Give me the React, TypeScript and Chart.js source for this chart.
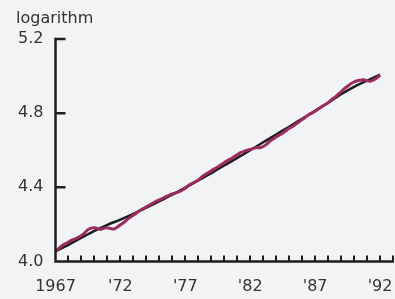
import React, { useEffect, useRef } from "react";
import { Chart, registerables } from "chart.js";

Chart.register(...registerables);

// Smooth trend (black line), yearly
const trendYears = [1967, 1968, 1969, 1970, 1971, 1972, 1973, 1974, 1975, 1976, 1977, 1978, 1979, 1980, 1981, 1982, 1983, 1984, 1985, 1986, 1987, 1988, 1989, 1990, 1991, 1992];
const trendValues = [4.055, 4.09, 4.128, 4.165, 4.198, 4.226, 4.257, 4.29, 4.325, 4.36, 4.398, 4.437, 4.477, 4.518, 4.558, 4.6, 4.643, 4.685, 4.727, 4.77, 4.813, 4.856, 4.902, 4.942, 4.975, 5.008];

// Actual series (magenta line), quarterly from 1967 Q1 to 1992 Q1
const actualStartYear = 1967;
const actualValues = [
  4.055, 4.07, 4.085, 4.095,
  4.105, 4.115, 4.122, 4.13,
  4.14, 4.155, 4.172, 4.18,
  4.182, 4.178, 4.173, 4.18,
  4.182, 4.178, 4.175, 4.185,
  4.198, 4.21, 4.225, 4.238,
  4.25, 4.262, 4.275, 4.285,
  4.295, 4.305, 4.315, 4.325,
  4.332, 4.34, 4.35, 4.357,
  4.365, 4.37, 4.375, 4.385,
  4.395, 4.41, 4.42, 4.43,
  4.44, 4.455, 4.468, 4.478,
  4.49, 4.5, 4.51, 4.522,
  4.533, 4.545, 4.553, 4.565,
  4.575, 4.587, 4.593, 4.6,
  4.605, 4.61, 4.615, 4.613,
  4.62, 4.632, 4.648, 4.66,
  4.672, 4.682, 4.692, 4.705,
  4.718, 4.728, 4.74, 4.752,
  4.765, 4.778, 4.792, 4.8,
  4.81, 4.822, 4.835, 4.845,
  4.856, 4.872, 4.885, 4.9,
  4.915, 4.932, 4.945, 4.958,
  4.968, 4.975, 4.978, 4.98,
  4.975, 4.972, 4.98, 4.99,
  5.003,
];
const actualYears = actualValues.map((_, i) => actualStartYear + i * 0.25);

const yTickValues = [4.0, 4.4, 4.8, 5.2];
const xTickValues = [1967, 1972, 1977, 1982, 1987, 1992];
const xTickLabels = ["1967", "'72", "'77", "'82", "'87", "'92"];
const xMinorTickYears = [1968, 1969, 1970, 1971, 1972, 1973, 1974, 1975, 1976, 1977, 1978, 1979, 1980, 1981, 1982, 1983, 1984, 1985, 1986, 1987, 1988, 1989, 1990, 1991, 1992, 1993];
const yAxisTitle = "logarithm";

const BG = "#f2f3f5";
const INK = "#1e1e1e";
const TEXT = "#333333";
const FONT = "DejaVu Sans";

const axesPlugin = {
  id: "customAxes",
  beforeDraw(chart: any) {
    const { ctx, width, height } = chart;
    ctx.save();
    ctx.fillStyle = BG;
    ctx.fillRect(0, 0, width, height);
    ctx.restore();
  },
  afterDatasetsDraw(chart: any) {
    const { ctx, chartArea, scales } = chart;
    const xs = scales.x;
    const ys = scales.y;
    const left = chartArea.left;
    const bottom = chartArea.bottom;
    ctx.save();
    ctx.strokeStyle = INK;
    ctx.lineWidth = 2.5;
    ctx.lineCap = "butt";
    ctx.beginPath();
    ctx.moveTo(left, ys.getPixelForValue(5.2) - 1.25);
    ctx.lineTo(left, bottom);
    ctx.lineTo(xs.getPixelForValue(1993) + 1, bottom);
    ctx.stroke();
    ctx.lineWidth = 2.5;
    ctx.beginPath();
    yTickValues.forEach((v) => {
      if (v === 4.0) return;
      const py = ys.getPixelForValue(v);
      ctx.moveTo(left, py);
      ctx.lineTo(left + 10, py);
    });
    ctx.stroke();
    ctx.lineWidth = 2;
    ctx.beginPath();
    xMinorTickYears.forEach((yr) => {
      const px = Math.round(xs.getPixelForValue(yr));
      ctx.moveTo(px, bottom);
      ctx.lineTo(px, bottom - 6);
    });
    ctx.stroke();
    ctx.fillStyle = TEXT;
    ctx.font = `16px "${FONT}"`;
    ctx.textAlign = "left";
    ctx.textBaseline = "alphabetic";
    ctx.fillText(yAxisTitle, 16, 23);
    ctx.restore();
  },
};

export default function App() {
  const canvasRef = useRef<HTMLCanvasElement | null>(null);

  useEffect(() => {
    document.body.style.margin = "0";
    document.body.style.background = BG;
    const canvas = canvasRef.current;
    if (!canvas) return;
    const chart = new Chart(canvas, {
      type: "line",
      data: {
        datasets: [
          {
            label: "Trend",
            data: trendYears.map((x, i) => ({ x, y: trendValues[i] })),
            borderColor: "#1c1c1c",
            borderWidth: 2.5,
            pointRadius: 0,
            cubicInterpolationMode: "monotone",
            fill: false,
            order: 2,
          },
          {
            label: "Actual",
            data: actualYears.map((x, i) => ({ x, y: actualValues[i] })),
            borderColor: "#9c2b62",
            borderWidth: 3,
            pointRadius: 0,
            tension: 0.3,
            fill: false,
            order: 1,
          },
        ],
      },
      options: {
        responsive: false,
        animation: false,
        devicePixelRatio: 1,
        layout: { padding: { top: 39, right: 2, left: 0, bottom: 0 } },
        plugins: {
          legend: { display: false },
          tooltip: { enabled: false },
          title: { display: false },
        },
        scales: {
          x: {
            type: "linear",
            min: 1967,
            max: 1993,
            grid: { display: false, drawTicks: false, tickLength: 0 },
            border: { display: false },
            afterBuildTicks: (scale: any) => {
              scale.ticks = xTickValues.map((v) => ({ value: v }));
            },
            afterFit: (scale: any) => {
              scale.height = 37.5;
              scale.paddingLeft = 0;
              scale.paddingRight = 0;
            },
            ticks: {
              autoSkip: false,
              maxRotation: 0,
              padding: 16,
              color: TEXT,
              font: { family: FONT, size: 16 },
              callback: (v: any) => {
                const idx = xTickValues.indexOf(Number(v));
                return idx >= 0 ? xTickLabels[idx] : "";
              },
            },
          },
          y: {
            type: "linear",
            min: 4.0,
            max: 5.2,
            grid: { display: false, drawTicks: false, tickLength: 0 },
            border: { display: false },
            afterBuildTicks: (scale: any) => {
              scale.ticks = yTickValues.map((v) => ({ value: v }));
            },
            afterFit: (scale: any) => {
              scale.width = 55.5;
              scale.paddingTop = 0;
              scale.paddingBottom = 0;
            },
            ticks: {
              padding: 12,
              color: TEXT,
              font: { family: FONT, size: 16 },
              callback: (v: any) => Number(v).toFixed(1),
            },
          },
        },
      },
      plugins: [axesPlugin],
    } as any);
    return () => chart.destroy();
  }, []);

  return (
    <div style={{ width: 395, height: 299, background: BG }}>
      <canvas ref={canvasRef} width={395} height={299} style={{ display: "block" }} />
    </div>
  );
}
